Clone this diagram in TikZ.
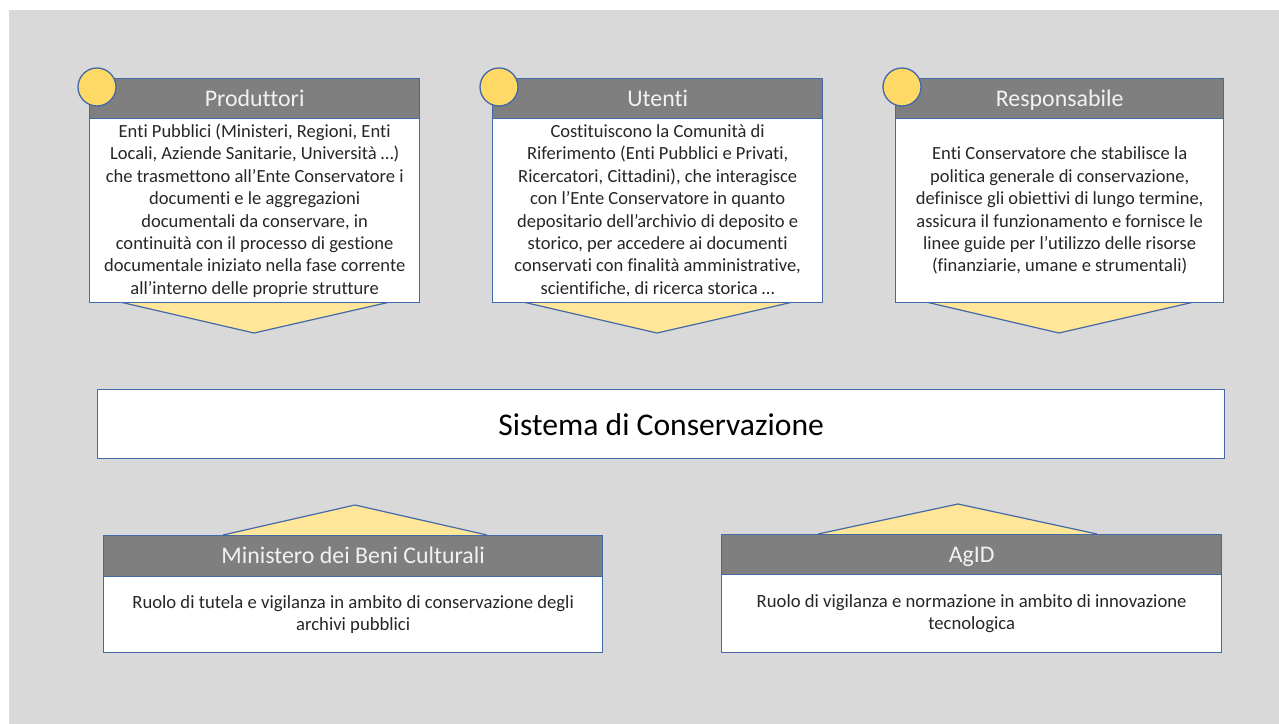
\documentclass[tikz,border=0pt]{standalone}
\usepackage{fontspec}
\setmainfont{Carlito}[Ligatures=NoCommon]
\definecolor{bggray}{HTML}{D9D9D9}
\definecolor{hdgray}{HTML}{7F7F7F}
\definecolor{bblue}{RGB}{68,105,168}
\definecolor{circy}{HTML}{FFD966}
\definecolor{chevy}{HTML}{FFE699}
\definecolor{txt}{HTML}{262626}
\definecolor{htxt}{HTML}{F2F2F2}
\tikzset{
  hdr/.style={draw=bblue, line width=1pt, fill=hdgray, text=htxt, anchor=north west, inner sep=0pt,
    text height=15pt, text depth=3.5pt, font=\fontsize{17.9}{21}\selectfont},
  bodybox/.style={draw=bblue, line width=1pt, fill=white, text=txt, anchor=north west, inner sep=0pt, align=center,
    font=\fontsize{13.9}{16.8}\selectfont},
  lowbody/.style={bodybox, font=\fontsize{14}{17}\selectfont},
  chev/.style={draw=bblue, line width=0.9pt, fill=chevy, line join=miter},
  badge/.style={circle, draw=bblue, line width=1pt, fill=circy, minimum size=28.5pt, inner sep=0pt},
  sysbox/.style={draw=bblue, line width=1pt, fill=white, text=black, anchor=north west, inner sep=0pt,
    font=\fontsize{23.7}{28}\selectfont}
}
\begin{document}
\begin{tikzpicture}[x=0.75pt,y=-0.75pt]
\useasboundingbox (0,0) rectangle (1279,724);
\fill[white] (0,0) rectangle (1279,724);
\fill[bggray] (9,10) rectangle (1279,724);

% chevrons under top boxes
\draw[chev] (120,302) -- (254,333) -- (390,302);
\draw[chev] (523,302) -- (657,333) -- (793,302);
\draw[chev] (926,302) -- (1059,333) -- (1194,302);

% Produttori
\node[hdr, minimum width=247.5pt, minimum height=30pt] (ph) at (89,78) {Produttori};
\node[bodybox, minimum width=247.5pt, minimum height=138pt] (pb) at (89,118)
 {Enti Pubblici (Ministeri, Regioni, Enti\\Locali, Aziende Sanitarie, Università …)\\che trasmettono all’Ente Conservatore i\\documenti e le aggregazioni\\documentali da conservare, in\\continuità con il processo di gestione\\documentale iniziato nella fase corrente\\all’interno delle proprie strutture};
\node[badge] (pc) at (97,87) {};

% Utenti
\node[hdr, minimum width=247.5pt, minimum height=30pt] (uh) at (492,78) {Utenti};
\node[bodybox, minimum width=247.5pt, minimum height=138pt] (ub) at (492,118)
 {Costituiscono la Comunità di\\Riferimento (Enti Pubblici e Privati,\\Ricercatori, Cittadini), che interagisce\\con l’Ente Conservatore in quanto\\depositario dell’archivio di deposito e\\storico, per accedere ai documenti\\conservati con finalità amministrative,\\scientifiche, di ricerca storica …};
\node[badge] (uc) at (499,87) {};

% Responsabile
\node[hdr, minimum width=246pt, minimum height=30pt] (rh) at (895,78) {Responsabile};
\node[bodybox, minimum width=246pt, minimum height=138pt] (rb) at (895,118)
 {Enti Conservatore che stabilisce la\\politica generale di conservazione,\\definisce gli obiettivi di lungo termine,\\assicura il funzionamento e fornisce le\\linee guide per l’utilizzo delle risorse\\(finanziarie, umane e strumentali)};
\node[badge] (rc) at (902,87) {};

% Sistema di Conservazione
\node[sysbox, minimum width=845.25pt, minimum height=51.75pt] (sys) at (97,389) {Sistema di Conservazione};

% triangles above lower boxes
\draw[chev] (223,535) -- (355,505) -- (487,535);
\draw[chev] (818,534) -- (958,504) -- (1097,534);

% Ministero
\node[hdr, minimum width=374.25pt, minimum height=30.75pt] (mh) at (103,535) {Ministero dei Beni Culturali};
\node[lowbody, minimum width=374.25pt, minimum height=57pt] (mb) at (103,576)
 {Ruolo di tutela e vigilanza in ambito di conservazione degli\\archivi pubblici};

% AgID
\node[hdr, minimum width=375pt, minimum height=30pt] (ah) at (721,534) {AgID};
\node[lowbody, minimum width=375pt, minimum height=58.5pt] (ab) at (721,574)
 {Ruolo di vigilanza e normazione in ambito di innovazione\\tecnologica};
\end{tikzpicture}
\end{document}
